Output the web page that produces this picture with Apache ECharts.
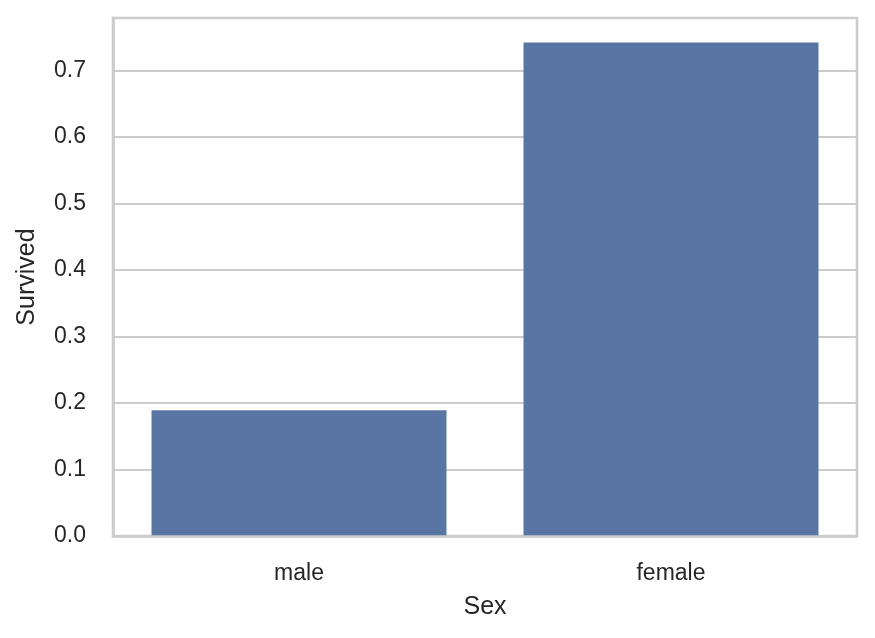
<!DOCTYPE html>
<html>
<head>
<meta charset="utf-8">
<script src="https://cdn.jsdelivr.net/npm/echarts@6/dist/echarts.min.js"></script>
<style>
html,body{margin:0;padding:0;background:#fff;}
#chart{width:875px;height:638px;}
</style>
</head>
<body>
<div id="chart"></div>
<script>
const categories = ['male', 'female'];
const survivedValues = [0.189, 0.742];
const yTicks = [0, 0.1, 0.2, 0.3, 0.4, 0.5, 0.6, 0.7];

const FONT = '"Liberation Sans", Arial, sans-serif';
const chart = echarts.init(document.getElementById('chart'), null, {renderer: 'canvas'});
chart.setOption({
  animation: false,
  backgroundColor: '#ffffff',
  grid: {
    left: 113, right: 18, top: 18, bottom: 102,
    show: true, borderColor: '#cccccc', borderWidth: 2.6, backgroundColor: 'transparent'
  },
  xAxis: {
    type: 'category',
    data: categories,
    z: 5,
    name: 'Sex',
    nameLocation: 'middle',
    nameGap: 59,
    nameTextStyle: {fontSize: 25, color: '#262626', fontFamily: FONT},
    axisLine: {show: true, lineStyle: {color: '#cccccc', width: 2.6}},
    axisTick: {show: false},
    axisLabel: {fontSize: 23, color: '#262626', fontFamily: FONT, margin: 26},
    splitLine: {show: false}
  },
  yAxis: {
    type: 'value',
    min: 0,
    max: 0.779,
    interval: 0.1,
    name: 'Survived',
    nameLocation: 'middle',
    nameGap: 73,
    nameTextStyle: {fontSize: 25, color: '#262626', fontFamily: FONT},
    axisLine: {show: true, lineStyle: {color: '#cccccc', width: 2.6}},
    axisTick: {show: false},
    axisLabel: {
      fontSize: 23, color: '#262626', fontFamily: FONT, margin: 27,
      showMaxLabel: false,
      formatter: function (v) {
        const t = yTicks.find(x => Math.abs(x - v) < 1e-6);
        return t === undefined ? '' : t.toFixed(1);
      }
    },
    splitLine: {show: true, lineStyle: {color: '#cccccc', width: 2.1}}
  },
  series: [{
    type: 'bar',
    data: survivedValues,
    barCategoryGap: '20.7%',
    itemStyle: {color: '#5875a4'}
  }]
});
</script>
</body>
</html>
